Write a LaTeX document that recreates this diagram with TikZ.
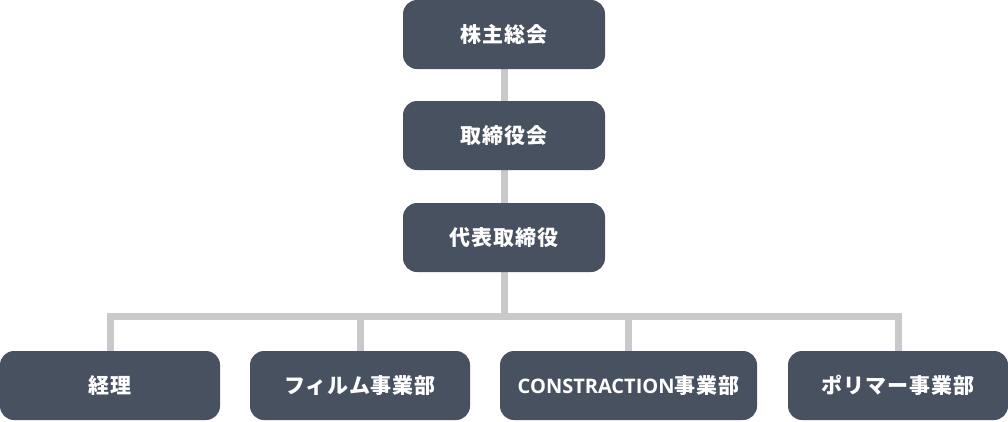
\documentclass[tikz,border=0pt]{standalone}
\usepackage{fontspec}
\usetikzlibrary{backgrounds}
\newfontfamily\jpfont{Noto Sans CJK JP}[LetterSpace=4]
\newfontfamily\latinfont{Open Sans}
\definecolor{boxgray}{HTML}{485160}
\definecolor{linegray}{HTML}{C9C9C9}
\tikzset{
    orgbox/.style={draw=none, fill=boxgray, rounded corners=14pt, text=white,
        inner sep=0pt, minimum height=69pt, font=\jpfont\bfseries\fontsize{21pt}{24pt}\selectfont},
    topbox/.style={orgbox, minimum width=202pt},
    deptbox/.style={orgbox, minimum width=220pt},
    conn/.style={draw=linegray, line width=7pt, line join=miter}
}
\begin{document}
\begin{tikzpicture}[x=1pt, y=-1pt]
    \useasboundingbox (0,0) rectangle (1008,421);

    % Cabeza de la organización
    \node[topbox] (kabunushi) at (504,34.5) {株主総会};
    \node[topbox] (torishimariyakukai) at (504,135.5) {取締役会};
    \node[topbox] (daihyo) at (504,237.5) {代表取締役};

    % Departamentos
    \node[deptbox] (keiri) at (110,385.5) {経理};
    \node[deptbox] (film) at (360,385.5) {フィルム事業部};
    \node[deptbox, minimum width=257pt] (construction) at (628.5,385.5) {{\latinfont\bfseries\fontsize{20pt}{24pt}\selectfont CONSTRACTION}事業部};
    \node[deptbox] (polymer) at (898,385.5) {ポリマー事業部};

    % Barra horizontal
    \coordinate (bus) at (504,316.5);

    % Conectores
    \begin{scope}[on background layer]
    \draw[conn] (kabunushi.south) -- (torishimariyakukai.north);
    \draw[conn] (torishimariyakukai.south) -- (daihyo.north);
    \draw[conn] (daihyo.south) -- (bus);
    \draw[conn] (keiri.north) -- (keiri.north |- bus) -- (polymer.north |- bus) -- (polymer.north);
    \draw[conn] (film.north) -- (film.north |- bus);
    \draw[conn] (construction.north) -- (construction.north |- bus);
    \end{scope}
\end{tikzpicture}
\end{document}
